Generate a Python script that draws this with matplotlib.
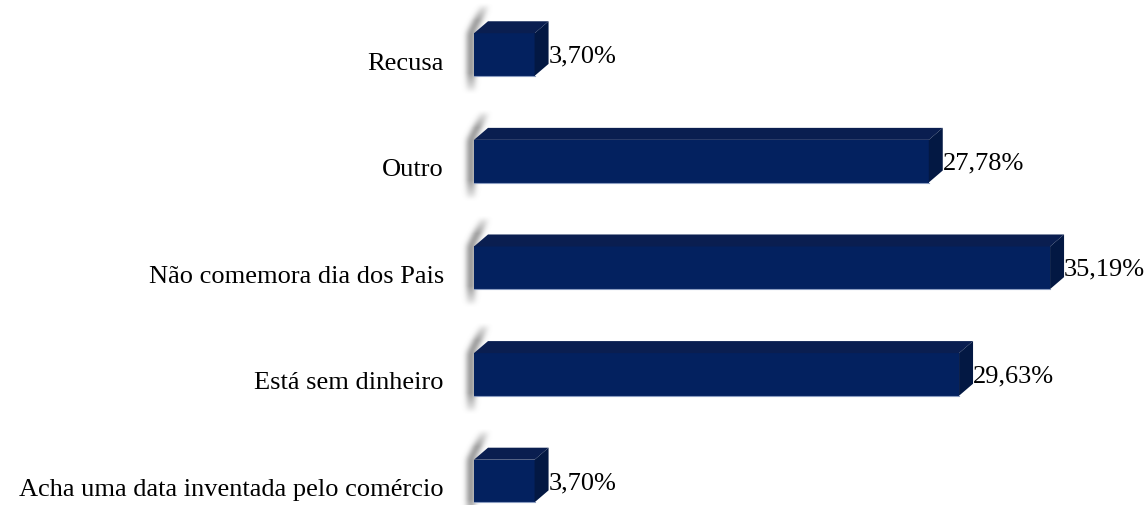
import numpy as np
import matplotlib
matplotlib.use("Agg")
import matplotlib.pyplot as plt
from matplotlib.patches import Polygon, Rectangle
from matplotlib.path import Path

categories = ["Acha uma data inventada pelo comércio", "Está sem dinheiro",
              "Não comemora dia dos Pais", "Outro", "Recusa"]
values = [3.70, 29.63, 35.19, 27.78, 3.70]
value_labels = ["3,70%", "29,63%", "35,19%", "27,78%", "3,70%"]

W, H = 1148, 505
PX_PER_PCT = 16.37
BASE_PX = 474
fig = plt.figure(figsize=(W / 100, H / 100), dpi=100)
ax = fig.add_axes([BASE_PX / W, 0, (W - BASE_PX) / W, 1])
xmax = (W - BASE_PX) / PX_PER_PCT
ylo, yhi = -0.225, 4.512
kx = xmax / (W - BASE_PX)
ky = (yhi - ylo) / H

FONT = ["Liberation Serif", "DejaVu Serif"]
FS = 19
front_c = "#03215F"
top_c = "#0A1E50"
side_c = "#031843"
h = 0.40
DXP, DYP = 14, 12
dx, dy = DXP * kx, DYP * ky
HF = h / ky  # front height in px

# shadow image built in pixel space (x right, y up, origin at bar's bottom-left)
gx0, gx1, gy0, gy1 = -16, 26, -32, HF + DYP + 28
xs = np.arange(gx0, gx1) + 0.5
ys = np.arange(gy0, gy1) + 0.5
XX, YY = np.meshgrid(xs, ys)
shape = Path([(-7, -16), (1, -16), (1, HF), (15, HF + 29), (7, HF + 29), (-7, HF)])
mask = shape.contains_points(np.c_[XX.ravel(), YY.ravel()]).reshape(XX.shape).astype(float)
k = np.exp(-0.5 * (np.arange(-9, 10) / 2.8) ** 2)
k /= k.sum()
blur = np.apply_along_axis(lambda r: np.convolve(r, k, mode="same"), 1, mask)
blur = np.apply_along_axis(lambda c: np.convolve(c, k, mode="same"), 0, blur)
fade = np.clip((YY + 19) / 22, 0, 1) * np.clip((HF + 31 - YY) / 18, 0, 1)
img = np.zeros(XX.shape + (4,))
img[..., :3] = 0.45
img[..., 3] = np.clip(blur * fade * 0.8, 0, 1)
img = img[::-1]  # imshow rows go top->bottom

for i, (v, lab, cat) in enumerate(zip(values, value_labels, categories)):
    y0, y1 = i - h / 2, i + h / 2
    ax.imshow(img, extent=(gx0 * kx, gx1 * kx, y0 + gy0 * ky, y0 + gy1 * ky),
              aspect="auto", zorder=1, interpolation="bilinear")
    ax.add_patch(Rectangle((0, y0), v, h, facecolor=front_c, edgecolor="none", zorder=3))
    ax.add_patch(Polygon([(0, y1), (v, y1), (v + dx, y1 + dy), (dx, y1 + dy)],
                         closed=True, facecolor=top_c, edgecolor="none", zorder=3))
    ax.add_patch(Polygon([(v, y0), (v + dx, y0 + dy), (v + dx, y1 + dy), (v, y1)],
                         closed=True, facecolor=side_c, edgecolor="none", zorder=3))
    ax.plot([0, v], [y0, y0], color="#8A9CC0", lw=0.8, zorder=4)
    ax.annotate(lab, xy=(v + dx, i), xytext=(0, -2), textcoords="offset pixels",
                ha="left", va="center", fontsize=FS, family=FONT, zorder=5)
    ax.annotate(cat, xy=(0, i), xytext=(-30, -9), textcoords="offset pixels",
                ha="right", va="center", fontsize=FS, family=FONT, zorder=5,
                annotation_clip=False)

ax.set_xlim(gx0 * kx, xmax)
ax.set_ylim(ylo, yhi)
ax.set_position([(BASE_PX + gx0) / W, 0, (W - BASE_PX - gx0) / W, 1])
ax.axis("off")
fig.savefig("out.png", dpi=100)
